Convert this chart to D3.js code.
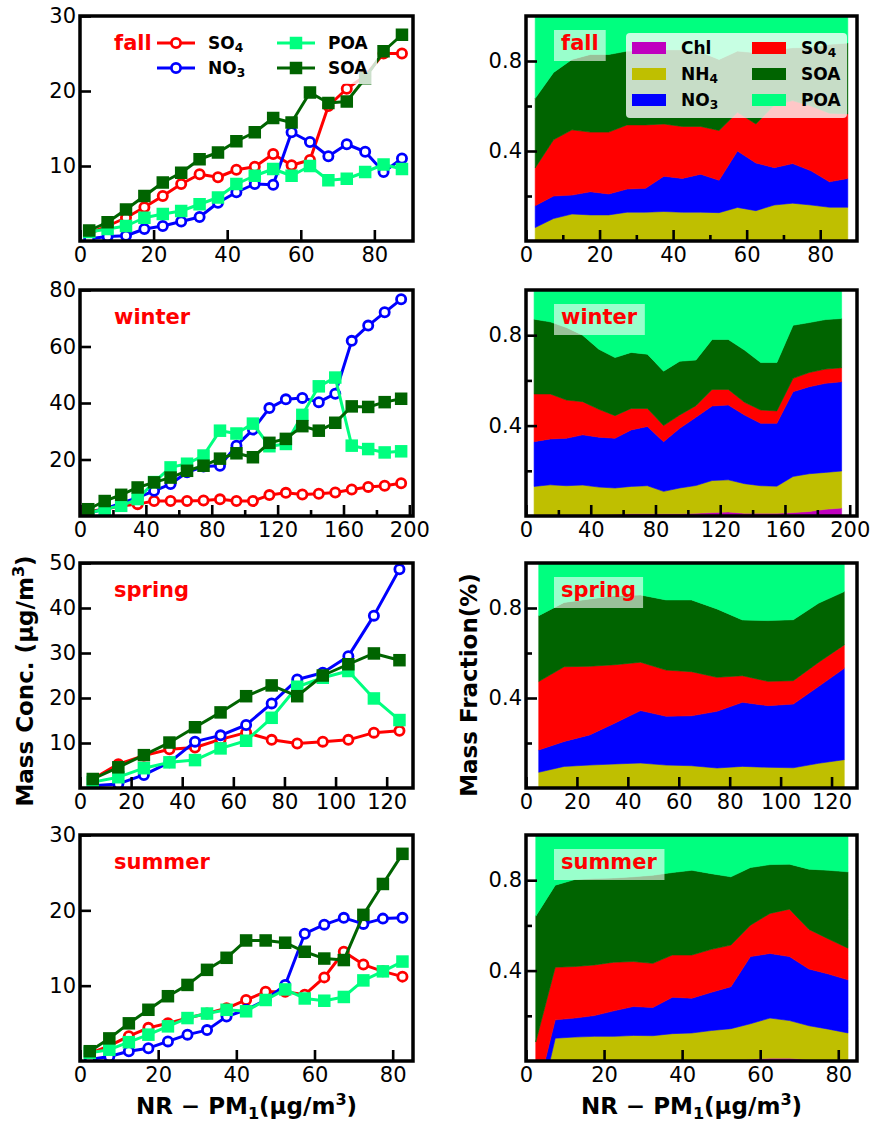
<!DOCTYPE html>
<html lang="en">
<head>
<meta charset="UTF-8" />
<title>Mass concentration and mass fraction vs NR-PM1</title>
<script src="https://cdnjs.cloudflare.com/ajax/libs/d3/7.8.5/d3.min.js"></script>
<style>
  body { margin: 0; background: #fff; }
  svg { display: block; font-family: "DejaVu Sans", sans-serif; }
</style>
</head>
<body>
<div id="chart"></div>
<script>
// ---------- data ----------
// bin centres of NR-PM1
const fallX = [2.5, 7.5, 12.5, 17.5, 22.5, 27.5, 32.5, 37.5, 42.5, 47.5, 52.5, 57.5, 62.5, 67.5, 72.5, 77.5, 82.5, 87.5];
const winterX = [5, 15, 25, 35, 45, 55, 65, 75, 85, 95, 105, 115, 125, 135, 145, 155, 165, 175, 185, 195];
const springX = [5, 15, 25, 35, 45, 55, 65, 75, 85, 95, 105, 115, 125];
const summerX = [2.5, 7.5, 12.5, 17.5, 22.5, 27.5, 32.5, 37.5, 42.5, 47.5, 52.5, 57.5, 62.5, 67.5, 72.5, 77.5, 82.5];

// mass concentrations (ug/m3)
const fallSO4 = [1.0, 2.0, 3.1, 4.5, 6.0, 7.6, 8.9, 8.5, 9.5, 9.9, 11.6, 10.1, 10.8, 18.0, 20.3, 22.0, 25.0, 25.0];
const fallNO3 = [0.3, 0.6, 0.7, 1.6, 2.0, 2.6, 3.2, 5.1, 6.5, 7.6, 7.5, 14.5, 13.2, 11.3, 12.9, 11.9, 9.2, 11.0];
const fallPOA = [1.2, 1.6, 2.0, 3.1, 3.6, 4.0, 4.9, 5.8, 7.6, 8.7, 9.6, 8.7, 10.0, 8.1, 8.3, 9.2, 10.2, 9.6];
const fallSOA = [1.4, 2.5, 4.2, 6.0, 7.8, 9.1, 10.9, 11.8, 13.3, 14.5, 16.4, 15.8, 19.8, 18.4, 18.6, 21.7, 25.3, 27.5];

const winterSO4 = [1.5, 2.5, 3.5, 4.2, 5.3, 5.3, 5.3, 5.5, 5.9, 5.3, 5.3, 7.4, 8.2, 7.6, 7.9, 8.3, 9.4, 10.3, 10.7, 11.6];
const winterNO3 = [1.0, 2.5, 4.5, 6.5, 8.9, 11.3, 15.5, 17.5, 17.8, 24.9, 30.6, 38.2, 41.3, 41.8, 40.3, 43.3, 62.0, 67.4, 72.1, 76.7];
const winterPOA = [1.0, 2.5, 3.6, 6.0, 12.0, 17.2, 18.5, 21.4, 30.2, 29.2, 32.7, 24.7, 25.5, 35.8, 45.9, 49.0, 24.9, 23.7, 22.5, 22.9];
const winterSOA = [2.4, 5.3, 7.5, 10.1, 11.9, 13.6, 16.0, 17.8, 20.3, 22.2, 20.8, 25.9, 27.3, 31.8, 30.2, 33.0, 38.8, 38.6, 40.3, 41.5];

const springSO4 = [2.0, 5.3, 7.2, 8.6, 9.0, 10.8, 12.3, 10.7, 9.9, 10.3, 10.7, 12.3, 12.7];
const springNO3 = [0.5, 0.9, 2.9, 5.7, 10.3, 11.7, 14.0, 18.8, 24.1, 25.6, 29.3, 38.3, 48.6];
const springPOA = [1.3, 2.4, 4.4, 5.7, 6.2, 8.8, 10.5, 15.6, 22.5, 24.5, 26.0, 19.9, 15.1];
const springSOA = [2.0, 4.6, 7.3, 10.1, 13.5, 16.8, 20.4, 22.8, 20.4, 25.0, 27.5, 29.9, 28.4];

const summerSO4 = [1.0, 2.0, 3.3, 4.4, 5.0, 5.7, 6.3, 7.0, 8.1, 9.2, 9.2, 8.8, 11.1, 14.5, 12.8, 11.9, 11.2];
const summerNO3 = [0.2, 0.6, 1.3, 1.7, 2.6, 3.5, 4.1, 5.9, 6.8, 8.1, 10.1, 16.9, 18.1, 19.0, 18.2, 18.9, 19.0];
const summerPOA = [1.1, 1.5, 2.5, 3.5, 4.6, 5.7, 6.3, 6.8, 6.6, 8.1, 9.5, 8.3, 8.0, 8.5, 10.7, 11.9, 13.2];
const summerSOA = [1.3, 3.0, 5.0, 6.8, 8.6, 10.1, 12.1, 13.7, 16.0, 16.0, 15.7, 14.5, 13.6, 13.4, 19.4, 23.5, 27.5];

// mass fractions
const fallFracChl = [0.004, 0.004, 0.004, 0.004, 0.004, 0.004, 0.004, 0.004, 0.004, 0.004, 0.004, 0.004, 0.004, 0.004, 0.004, 0.004, 0.004, 0.004];
const fallFracNH4 = [0.056, 0.096, 0.116, 0.112, 0.112, 0.124, 0.124, 0.127, 0.124, 0.124, 0.122, 0.145, 0.131, 0.156, 0.164, 0.156, 0.146, 0.146];
const fallFracNO3 = [0.097, 0.100, 0.084, 0.103, 0.093, 0.103, 0.106, 0.157, 0.150, 0.169, 0.144, 0.251, 0.212, 0.166, 0.176, 0.152, 0.113, 0.128];
const fallFracSO4 = [0.168, 0.250, 0.290, 0.265, 0.275, 0.285, 0.282, 0.232, 0.231, 0.212, 0.221, 0.172, 0.173, 0.278, 0.280, 0.288, 0.305, 0.287];
const fallFracSOA = [0.309, 0.299, 0.313, 0.345, 0.345, 0.328, 0.329, 0.330, 0.341, 0.331, 0.316, 0.272, 0.317, 0.246, 0.235, 0.260, 0.306, 0.315];
const fallFracPOA = [0.366, 0.251, 0.193, 0.171, 0.171, 0.156, 0.155, 0.150, 0.150, 0.160, 0.193, 0.156, 0.163, 0.150, 0.141, 0.140, 0.126, 0.120];

const winterFracChl = [0.005, 0.005, 0.005, 0.005, 0.006, 0.008, 0.010, 0.010, 0.010, 0.010, 0.012, 0.015, 0.018, 0.012, 0.012, 0.012, 0.015, 0.020, 0.030, 0.035];
const winterFracNH4 = [0.126, 0.133, 0.129, 0.132, 0.122, 0.116, 0.121, 0.124, 0.099, 0.114, 0.123, 0.142, 0.142, 0.131, 0.122, 0.120, 0.160, 0.167, 0.163, 0.164];
const winterFracNO3 = [0.198, 0.203, 0.210, 0.222, 0.221, 0.220, 0.250, 0.262, 0.220, 0.264, 0.302, 0.330, 0.331, 0.304, 0.276, 0.278, 0.375, 0.385, 0.394, 0.395];
const winterFracSO4 = [0.211, 0.199, 0.169, 0.147, 0.123, 0.100, 0.095, 0.080, 0.071, 0.059, 0.051, 0.073, 0.069, 0.056, 0.059, 0.055, 0.059, 0.063, 0.063, 0.062];
const winterFracSOA = [0.331, 0.319, 0.321, 0.294, 0.266, 0.257, 0.248, 0.240, 0.241, 0.238, 0.202, 0.221, 0.221, 0.231, 0.210, 0.214, 0.235, 0.221, 0.219, 0.218];
const winterFracPOA = [0.129, 0.141, 0.166, 0.200, 0.262, 0.299, 0.276, 0.284, 0.359, 0.315, 0.310, 0.219, 0.219, 0.266, 0.321, 0.321, 0.156, 0.144, 0.131, 0.126];

const springFracChl = [0.003, 0.003, 0.003, 0.003, 0.003, 0.003, 0.003, 0.003, 0.003, 0.003, 0.003, 0.003, 0.003];
const springFracNH4 = [0.067, 0.093, 0.099, 0.104, 0.108, 0.099, 0.096, 0.086, 0.093, 0.089, 0.087, 0.107, 0.123];
const springFracNO3 = [0.099, 0.111, 0.134, 0.182, 0.233, 0.217, 0.222, 0.252, 0.285, 0.274, 0.283, 0.342, 0.406];
const springFracSO4 = [0.304, 0.332, 0.305, 0.259, 0.215, 0.205, 0.196, 0.151, 0.118, 0.108, 0.104, 0.107, 0.104];
const springFracSOA = [0.293, 0.286, 0.299, 0.307, 0.299, 0.312, 0.319, 0.304, 0.248, 0.270, 0.271, 0.263, 0.237];
const springFracPOA = [0.234, 0.175, 0.160, 0.145, 0.142, 0.164, 0.164, 0.204, 0.253, 0.256, 0.252, 0.178, 0.127];

const summerFracChl = [0, 0, 0, 0, 0, 0, 0, 0, 0, 0, 0, 0.008, 0.012, 0.012, 0.006, 0.003, 0.002];
const summerFracNH4 = [-0.270, 0.101, 0.106, 0.109, 0.109, 0.113, 0.112, 0.121, 0.124, 0.135, 0.143, 0.157, 0.178, 0.167, 0.150, 0.138, 0.122];
const summerFracNO3 = [0.105, 0.081, 0.084, 0.092, 0.113, 0.128, 0.125, 0.161, 0.154, 0.169, 0.186, 0.297, 0.286, 0.283, 0.251, 0.244, 0.235];
const summerFracSO4 = [0.249, 0.233, 0.228, 0.224, 0.215, 0.199, 0.195, 0.187, 0.191, 0.190, 0.184, 0.139, 0.177, 0.210, 0.175, 0.155, 0.140];
const summerFracSOA = [0.557, 0.363, 0.385, 0.382, 0.373, 0.375, 0.390, 0.365, 0.375, 0.335, 0.302, 0.255, 0.216, 0.199, 0.267, 0.304, 0.338];
const summerFracPOA = [0.359, 0.222, 0.197, 0.193, 0.190, 0.185, 0.178, 0.166, 0.156, 0.171, 0.185, 0.144, 0.131, 0.129, 0.151, 0.156, 0.163];

const concKeys = ["SO4", "NO3", "POA", "SOA"];
const fracKeys = ["Chl", "NH4", "NO3", "SO4", "SOA", "POA"];
const colors = { Chl: "#bf00bf", NH4: "#bfbf00", NO3: "#0000ff", SO4: "#ff0000", SOA: "#006400", POA: "#00ff7f" };

// ---------- layout ----------
const width = 878, height = 1124;
const leftCol = { x0: 80, x1: 413 };
const rightCol = { x0: 526, x1: 857 };
const rows = [
  { y0: 16, y1: 241 },
  { y0: 290, y1: 516 },
  { y0: 563, y1: 788 },
  { y0: 835, y1: 1061 }
];

const seasons = [
  {
    name: "fall", x: fallX,
    conc: { SO4: fallSO4, NO3: fallNO3, POA: fallPOA, SOA: fallSOA },
    frac: { Chl: fallFracChl, NH4: fallFracNH4, NO3: fallFracNO3, SO4: fallFracSO4, SOA: fallFracSOA, POA: fallFracPOA },
    lxMax: 90.5, lyMax: 30, lyTicks: [10, 20, 30], lxTicks: [0, 20, 40, 60, 80], lxMinor: [],
    rxMax: 90, rxTicks: [0, 20, 40, 60, 80], rxMinor: [10, 30, 50, 70]
  },
  {
    name: "winter", x: winterX,
    conc: { SO4: winterSO4, NO3: winterNO3, POA: winterPOA, SOA: winterSOA },
    frac: { Chl: winterFracChl, NH4: winterFracNH4, NO3: winterFracNO3, SO4: winterFracSO4, SOA: winterFracSOA, POA: winterFracPOA },
    lxMax: 202.2, lyMax: 80, lyTicks: [20, 40, 60, 80], lxTicks: [0, 40, 80, 120, 160, 200], lxMinor: [20, 60, 100, 140, 180],
    rxMax: 204.5, rxTicks: [0, 40, 80, 120, 160, 200], rxMinor: [20, 60, 100, 140, 180]
  },
  {
    name: "spring", x: springX,
    conc: { SO4: springSO4, NO3: springNO3, POA: springPOA, SOA: springSOA },
    frac: { Chl: springFracChl, NH4: springFracNH4, NO3: springFracNO3, SO4: springFracSO4, SOA: springFracSOA, POA: springFracPOA },
    lxMax: 130.3, lyMax: 50, lyTicks: [10, 20, 30, 40, 50], lxTicks: [0, 20, 40, 60, 80, 100, 120], lxMinor: [],
    rxMax: 130, rxTicks: [0, 20, 40, 60, 80, 100, 120], rxMinor: []
  },
  {
    name: "summer", x: summerX,
    conc: { SO4: summerSO4, NO3: summerNO3, POA: summerPOA, SOA: summerSOA },
    frac: { Chl: summerFracChl, NH4: summerFracNH4, NO3: summerFracNO3, SO4: summerFracSO4, SOA: summerFracSOA, POA: summerFracPOA },
    lxMax: 85.2, lyMax: 30, lyTicks: [10, 20, 30], lxTicks: [0, 20, 40, 60, 80], lxMinor: [],
    rxMax: 84.8, rxTicks: [0, 20, 40, 60, 80], rxMinor: []
  }
];

const svg = d3.select("#chart").append("svg")
  .attr("width", width).attr("height", height);
const defs = svg.append("defs");

const tickFont = 21;

function styleAxis(sel) {
  sel.select(".domain").remove();
  sel.selectAll("line").attr("stroke", "#000").attr("stroke-width", 2.6);
  sel.selectAll("text").attr("font-size", tickFont).attr("fill", "#000")
    .attr("font-family", "DejaVu Sans, sans-serif");
}

function drawAxes(g, x, y, row, col, xTicks, xMinor, yTicks, yMinor, yFmt) {
  g.append("g").attr("transform", `translate(0,${row.y1})`)
    .call(d3.axisBottom(x).tickValues(xTicks).tickFormat(d3.format("d"))
      .tickSizeInner(-11).tickSizeOuter(0).tickPadding(6))
    .call(styleAxis);
  if (xMinor.length) {
    g.append("g").attr("transform", `translate(0,${row.y1})`)
      .call(d3.axisBottom(x).tickValues(xMinor).tickFormat("")
        .tickSizeInner(-6).tickSizeOuter(0))
      .call(styleAxis);
  }
  g.append("g").attr("transform", `translate(${col.x0},0)`)
    .call(d3.axisLeft(y).tickValues(yTicks).tickFormat(yFmt)
      .tickSizeInner(-11).tickSizeOuter(0).tickPadding(4))
    .call(styleAxis);
  if (yMinor.length) {
    g.append("g").attr("transform", `translate(${col.x0},0)`)
      .call(d3.axisLeft(y).tickValues(yMinor).tickFormat("")
        .tickSizeInner(-6).tickSizeOuter(0))
      .call(styleAxis);
  }
}

function addClip(id, col, row) {
  defs.append("clipPath").attr("id", id).append("rect")
    .attr("x", col.x0).attr("y", row.y0)
    .attr("width", col.x1 - col.x0).attr("height", row.y1 - row.y0);
}

function frame(g, col, row) {
  g.append("rect").attr("x", col.x0).attr("y", row.y0)
    .attr("width", col.x1 - col.x0).attr("height", row.y1 - row.y0)
    .attr("fill", "none").attr("stroke", "#000").attr("stroke-width", 3.5);
}

// label with a subscript, e.g. SO4
function chemLabel(sel, key) {
  const m = key.match(/^([A-Za-z]+?)(\d)$/);
  if (m) {
    sel.append("tspan").text(m[1]);
    sel.append("tspan").text(m[2]).attr("font-size", "0.72em").attr("dy", "0.28em");
  } else {
    sel.text(key);
  }
}

function drawMarker(g, key, cx, cy) {
  if (key === "SO4" || key === "NO3") {
    g.append("circle").attr("cx", cx).attr("cy", cy).attr("r", 4.6)
      .attr("fill", "#fff").attr("stroke", colors[key]).attr("stroke-width", 2.8);
  } else {
    const s = 12.5;
    g.append("rect").attr("x", cx - s / 2).attr("y", cy - s / 2)
      .attr("width", s).attr("height", s).attr("fill", colors[key]);
  }
}

// ---------- left column: mass concentration ----------
seasons.forEach((s, i) => {
  const row = rows[i], col = leftCol;
  const x = d3.scaleLinear().domain([0, s.lxMax]).range([col.x0, col.x1]);
  const y = d3.scaleLinear().domain([0, s.lyMax]).range([row.y1, row.y0]);
  const g = svg.append("g");
  const clipId = `clip-conc-${s.name}`;
  addClip(clipId, col, row);
  const plot = g.append("g").attr("clip-path", `url(#${clipId})`);

  const line = d3.line().x(d => x(d[0])).y(d => y(d[1]));
  concKeys.forEach(k => {
    const pts = s.x.map((xv, j) => [xv, s.conc[k][j]]);
    const sg = plot.append("g");
    sg.append("path").datum(pts).attr("d", line)
      .attr("fill", "none").attr("stroke", colors[k]).attr("stroke-width", 3)
      .attr("stroke-linejoin", "round");
    pts.forEach(p => drawMarker(sg, k, x(p[0]), y(p[1])));
  });

  // season label
  g.append("text").attr("x", col.x0 + 34).attr("y", row.y0 + 34)
    .attr("font-size", 21).attr("font-weight", "bold").attr("fill", "#ff0000")
    .text(s.name);

  // legend in the first panel
  if (i === 0) {
    const lg = g.append("g");
    lg.append("rect").attr("x", 151).attr("y", row.y0 + 12).attr("width", 226).attr("height", 56)
      .attr("rx", 3).attr("fill", "#fff").attr("fill-opacity", 0.8);
    const entries = [
      { k: "SO4", x: 157, y: row.y0 + 27 },
      { k: "NO3", x: 157, y: row.y0 + 52 },
      { k: "POA", x: 277, y: row.y0 + 27 },
      { k: "SOA", x: 277, y: row.y0 + 52 }
    ];
    entries.forEach(e => {
      lg.append("line").attr("x1", e.x).attr("x2", e.x + 38).attr("y1", e.y).attr("y2", e.y)
        .attr("stroke", colors[e.k]).attr("stroke-width", 3);
      drawMarker(lg, e.k, e.x + 19, e.y);
      const t = lg.append("text").attr("x", e.x + 51).attr("y", e.y + 6)
        .attr("font-size", 17).attr("font-weight", "bold").attr("fill", "#000");
      chemLabel(t, e.k);
    });
  }

  drawAxes(g, x, y, row, col, s.lxTicks, s.lxMinor, s.lyTicks, [], d3.format("d"));
  frame(g, col, row);
});

// ---------- right column: mass fraction ----------
seasons.forEach((s, i) => {
  const row = rows[i], col = rightCol;
  const x = d3.scaleLinear().domain([0, s.rxMax]).range([col.x0, col.x1]);
  const y = d3.scaleLinear().domain([0, 1]).range([row.y1, row.y0]);
  const g = svg.append("g");
  const clipId = `clip-frac-${s.name}`;
  addClip(clipId, col, row);
  const plot = g.append("g").attr("clip-path", `url(#${clipId})`);

  const table = s.x.map((xv, j) => {
    const o = { x: xv };
    fracKeys.forEach(k => { o[k] = s.frac[k][j]; });
    return o;
  });
  const series = d3.stack().keys(fracKeys).offset(d3.stackOffsetNone)(table);
  const area = d3.area().x(d => x(d.data.x)).y0(d => y(d[0])).y1(d => y(d[1]));
  plot.selectAll("path").data(series).join("path")
    .attr("d", area)
    .attr("fill", d => colors[d.key])
    .attr("stroke", d => colors[d.key])
    .attr("stroke-width", 0.6);

  // season label with translucent box
  const lab = g.append("text").attr("x", col.x0 + 35).attr("y", row.y0 + 34)
    .attr("font-size", 21).attr("font-weight", "bold").attr("fill", "#ff0000")
    .text(s.name);
  const bb = lab.node().getBBox();
  g.insert("rect", () => lab.node())
    .attr("x", bb.x - 7).attr("y", row.y0 + 14)
    .attr("width", bb.width + 14).attr("height", 31)
    .attr("fill", "#fff").attr("fill-opacity", 0.6);

  if (i === 0) {
    const lg = g.append("g");
    lg.append("rect").attr("x", 626).attr("y", row.y0 + 17).attr("width", 221).attr("height", 85)
      .attr("rx", 4).attr("fill", "#fff").attr("fill-opacity", 0.78);
    const cols = [["Chl", "NH4", "NO3"], ["SO4", "SOA", "POA"]];
    const colX = [632, 752];
    cols.forEach((list, c) => {
      list.forEach((k, r) => {
        const cy = row.y0 + 32 + r * 26;
        lg.append("rect").attr("x", colX[c]).attr("y", cy - 6).attr("width", 34).attr("height", 12)
          .attr("fill", colors[k]);
        const t = lg.append("text").attr("x", colX[c] + 49).attr("y", cy + 6)
          .attr("font-size", 17).attr("font-weight", "bold").attr("fill", "#000");
        chemLabel(t, k);
      });
    });
  }

  drawAxes(g, x, y, row, col, s.rxTicks, s.rxMinor, [0.4, 0.8], [0.2, 0.6], d3.format(".1f"));
  frame(g, col, row);
});

// ---------- axis titles ----------
const yl = svg.append("text")
  .attr("transform", "translate(33,681) rotate(-90)")
  .attr("text-anchor", "middle").attr("font-size", 23).attr("font-weight", "bold");
yl.append("tspan").text("Mass Conc. (μg/m");
yl.append("tspan").text("3").attr("font-size", "0.7em").attr("dy", "-0.55em");
yl.append("tspan").text(")").attr("dy", "0.385em");

svg.append("text")
  .attr("transform", "translate(477,685) rotate(-90)")
  .attr("text-anchor", "middle").attr("font-size", 23).attr("font-weight", "bold")
  .text("Mass Fraction(%)");

[leftCol, rightCol].forEach(col => {
  const t = svg.append("text")
    .attr("x", (col.x0 + col.x1) / 2).attr("y", 1114)
    .attr("text-anchor", "middle").attr("font-size", 23).attr("font-weight", "bold");
  t.append("tspan").text("NR − PM");
  t.append("tspan").text("1").attr("font-size", "0.7em").attr("dy", "0.3em");
  t.append("tspan").text("(μg/m").attr("dy", "-0.21em");
  t.append("tspan").text("3").attr("font-size", "0.7em").attr("dy", "-0.55em");
  t.append("tspan").text(")").attr("dy", "0.385em");
});
</script>
</body>
</html>
